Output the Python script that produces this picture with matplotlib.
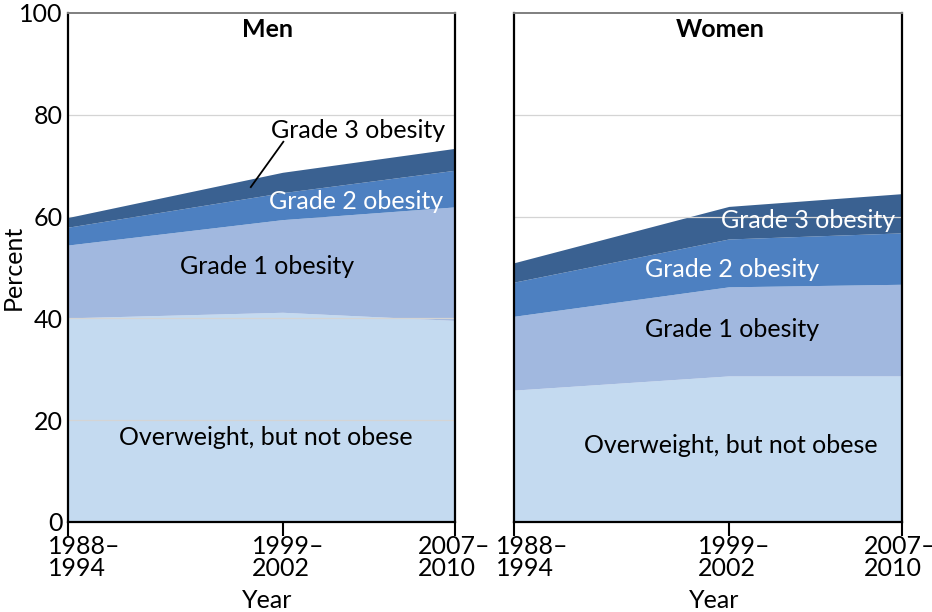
import numpy as np
import matplotlib
matplotlib.use('Agg')
import matplotlib.pyplot as plt

plt.rcParams['font.family'] = ['Lato', 'DejaVu Sans']

# survey periods
PERIODS = ['1988\u2013\n1994', '1999\u2013\n2002', '2007\u2013\n2010']
XPOS = [0.0, 0.555, 1.0]     # horizontal placement of the periods

CATEGORIES = ['Overweight, but not obese', 'Grade 1 obesity',
              'Grade 2 obesity', 'Grade 3 obesity']

# percent in each category (stacked)
MEN_OVERWEIGHT = [40.0, 41.1, 39.5]
MEN_GRADE1 = [14.3, 18.2, 22.3]
MEN_GRADE2 = [3.5, 5.3, 7.2]
MEN_GRADE3 = [1.9, 4.0, 4.3]

WOMEN_OVERWEIGHT = [25.8, 28.6, 28.6]
WOMEN_GRADE1 = [14.5, 17.5, 18.0]
WOMEN_GRADE2 = [6.7, 9.4, 10.1]
WOMEN_GRADE3 = [3.8, 6.4, 7.7]

COLORS = ['#c4daf0', '#a1b8df', '#4d80c1', '#3a6191']

FS = 18


def panel(ax, series, title, labels, title_x, grid_over, shifts):
    y = np.vstack(series)
    ax.stackplot(XPOS, y, colors=COLORS, lw=0, zorder=1)
    for g in (20, 40, 60, 80):
        ax.axhline(g, color='#d4d4d4', lw=0.9,
                   zorder=2 if g in grid_over else 0.5)
    ax.set_xlim(0, 1)
    ax.set_ylim(0, 100)
    ax.set_xticks(XPOS)
    ax.set_xticklabels([])
    # period labels, left-aligned and hung below each tick
    for x, lab, dx in zip(XPOS, PERIODS, shifts):
        ax.annotate(lab, xy=(x, 0), xycoords=('data', 'axes fraction'),
                    xytext=(dx, -13), textcoords='offset pixels',
                    ha='left', va='top', fontsize=FS, linespacing=0.95,
                    annotation_clip=False)
    ax.set_yticks([0, 20, 40, 60, 80, 100])
    ax.tick_params(axis='x', direction='out', length=10, width=1.5, pad=3)
    ax.tick_params(axis='y', length=0, labelsize=FS, pad=4)
    for s in ('left', 'right', 'bottom'):
        ax.spines[s].set_color('black')
        ax.spines[s].set_linewidth(1.6)
    ax.spines['top'].set_color('#7f7f7f')
    ax.spines['top'].set_linewidth(1.4)
    ax.set_xlabel('Year', fontsize=FS)
    ax.xaxis.set_label_coords(0.515, -0.132)
    ax.text(title_x, 96.8, title, fontsize=FS, fontweight='bold',
            ha='center', va='center', zorder=5)
    for (txt, x, yy, c) in labels:
        ax.text(x, yy, txt, fontsize=FS, color=c, ha='center', va='center', zorder=5)


fig = plt.figure(figsize=(9.32, 6.12), dpi=100)
ax1 = fig.add_axes([0.073, 0.1471, 0.4155, 0.8317])
ax2 = fig.add_axes([0.5515, 0.1471, 0.4163, 0.8317])

panel(ax1, [MEN_OVERWEIGHT, MEN_GRADE1, MEN_GRADE2, MEN_GRADE3], 'Men', [
    (CATEGORIES[3], 0.748, 77.0, 'black'),
    (CATEGORIES[2], 0.745, 62.9, 'white'),
    (CATEGORIES[1], 0.514, 50.2, 'black'),
    (CATEGORIES[0], 0.512, 16.5, 'black'),
], 0.516, (20, 40), (-20, -31, -37))
ax1.plot([0.556, 0.472], [74.7, 65.8], color='black', lw=1.3, zorder=5)
ax1.set_ylabel('Percent', fontsize=FS)
ax1.yaxis.set_label_coords(-0.112, 0.5)

panel(ax2, [WOMEN_OVERWEIGHT, WOMEN_GRADE1, WOMEN_GRADE2, WOMEN_GRADE3], 'Women', [
    (CATEGORIES[3], 0.758, 59.3, 'white'),
    (CATEGORIES[2], 0.561, 49.6, 'white'),
    (CATEGORIES[1], 0.561, 37.9, 'black'),
    (CATEGORIES[0], 0.560, 15.0, 'black'),
], 0.531, (60,), (-18, -31, -38))
ax2.set_yticklabels([])

fig.savefig('out.png', dpi=100)
